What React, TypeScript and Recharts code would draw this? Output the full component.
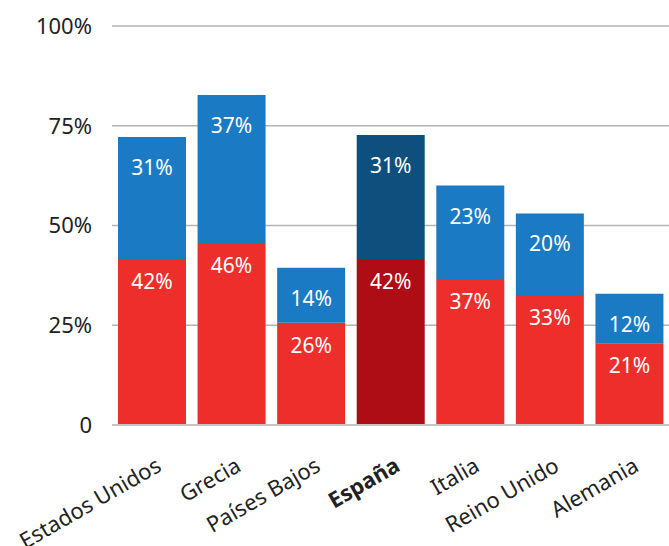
import React from 'react';
import { BarChart, Bar, XAxis, YAxis, CartesianGrid, Cell, LabelList } from 'recharts';

const categories = ['Estados Unidos', 'Grecia', 'Países Bajos', 'España', 'Italia', 'Reino Unido', 'Alemania'];
const redValues = [41.6, 45.6, 25.6, 41.6, 36.6, 32.6, 20.5];
const blueValues = [30.6, 37.1, 13.8, 31.1, 23.4, 20.4, 12.4];
const yTicks = [0, 25, 50, 75, 100];
const highlight = 'España';

const data = categories.map((c, i) => ({ name: c, red: redValues[i], blue: blueValues[i] }));

const FONT = '"Noto Sans", "Open Sans", sans-serif';

const XTick = (props: any) => {
  const { x, y, payload } = props;
  const bold = payload.value === highlight;
  const tx = x + 11;
  const ty = y + 45;
  return (
    <text
      x={tx}
      y={ty}
      transform={`rotate(-30, ${tx}, ${ty})`}
      textAnchor="end"
      fontSize={22}
      fontFamily={FONT}
      fontWeight={bold ? 700 : 400}
      fill="#222"
    >
      {payload.value}
    </text>
  );
};

const fmt = (v: any) => `${Math.round(Number(v))}%`;

export default function App() {
  return (
    <div style={{ position: 'absolute', left: 0, top: 0 }}>
      <BarChart
        width={669}
        height={546}
        data={data}
        margin={{ top: 26, right: 0, bottom: 0, left: 0 }}
        barSize={68}
      >
        <CartesianGrid vertical={false} stroke="#b4b4b4" strokeWidth={1.5} />
        <XAxis
          dataKey="name"
          interval={0}
          height={121}
          tickLine={false}
          tickSize={0}
          tickMargin={0}
          axisLine={{ stroke: '#c4c4c4', strokeWidth: 2 }}
          tick={<XTick />}
        />
        <YAxis
          width={112}
          domain={[0, 100]}
          ticks={yTicks}
          tickFormatter={(v: number) => (v === 0 ? '0' : `${v}%`)}
          axisLine={false}
          tickLine={false}
          tickSize={0}
          tickMargin={20}
          tick={{ fontSize: 22, fontFamily: FONT, fill: '#222' }}
        />
        <Bar dataKey="red" stackId="a" isAnimationActive={false}>
          {data.map((d) => (
            <Cell key={d.name} fill={d.name === highlight ? '#ae0d15' : '#ee2e2b'} />
          ))}
          <LabelList
            dataKey="red"
            position="insideTop"
            offset={15}
            formatter={fmt}
            fill="#fff"
            fontSize={21}
            fontFamily={FONT}
          />
        </Bar>
        <Bar dataKey="blue" stackId="a" isAnimationActive={false}>
          {data.map((d) => (
            <Cell key={d.name} fill={d.name === highlight ? '#0f4f7e' : '#1a7bc4'} />
          ))}
          <LabelList
            dataKey="blue"
            position="insideTop"
            offset={23}
            formatter={fmt}
            fill="#fff"
            fontSize={21}
            fontFamily={FONT}
          />
        </Bar>
      </BarChart>
    </div>
  );
}
